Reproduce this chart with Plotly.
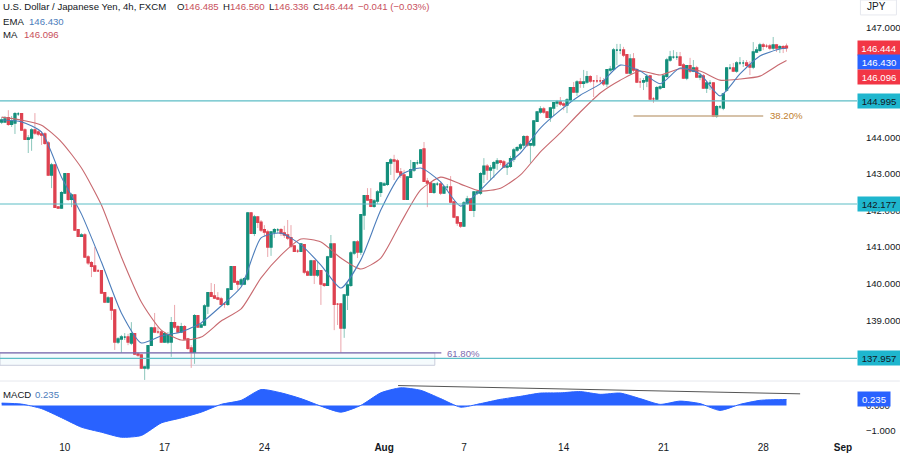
import pandas as pd
import plotly.graph_objects as go
from plotly.subplots import make_subplots

# USD/JPY 4h, FXCM, one line = 10 bars
opens = [
    144.42,144.42,144.53,144.36,144.39,144.64,144.64,144.20,143.95,143.98,
    144.20,144.14,144.09,144.09,143.84,142.97,143.24,142.09,142.07,142.48,
    143.00,142.31,142.42,141.47,141.30,141.33,140.73,140.57,140.48,140.35,
    140.35,139.75,139.50,139.61,139.28,138.41,138.49,138.54,138.54,138.38,
    138.63,138.08,138.05,137.70,137.70,138.32,138.79,138.68,138.68,138.41,
    138.41,138.41,138.93,138.82,138.68,138.82,138.49,138.24,138.13,139.12,
    138.82,138.87,139.39,139.75,139.66,139.61,139.58,139.44,139.44,139.85,
    140.46,140.05,139.99,139.99,140.13,141.93,141.38,141.82,141.68,141.47,
    141.41,141.00,141.41,141.47,141.47,141.38,141.33,141.25,141.03,140.89,
    140.89,141.06,140.32,140.24,140.62,140.24,140.35,139.99,139.96,140.73,
    141.08,139.44,139.44,138.79,139.69,139.96,140.84,141.14,140.87,141.88,
    142.40,142.29,142.12,142.26,142.50,142.70,142.72,143.30,143.38,143.35,
    143.05,142.97,142.31,142.91,143.11,143.30,143.30,143.68,142.80,142.75,
    142.50,142.72,142.72,142.48,142.64,142.64,142.23,141.82,141.66,141.58,
    142.20,142.31,142.01,142.48,142.48,143.00,143.21,143.11,143.16,143.30,
    143.35,143.32,143.19,143.21,143.41,143.65,143.71,143.79,144.01,143.79,
    143.79,144.44,144.69,144.77,144.69,144.55,144.80,144.94,144.96,144.91,
    144.88,145.02,145.35,145.24,145.51,145.48,145.51,145.65,145.54,145.54,
    145.54,145.54,145.46,145.84,145.86,146.38,146.38,146.38,146.25,145.76,
    146.14,145.84,145.51,145.51,145.54,145.67,145.05,145.05,145.35,145.37,
    145.67,146.11,146.19,146.19,146.19,145.97,145.62,145.95,145.81,145.89,
    145.65,145.67,145.35,145.48,145.48,144.58,144.83,144.80,145.29,145.89,
    145.89,145.81,146.03,146.03,146.03,145.97,145.92,146.33,146.38,146.52,
    146.49,146.49,146.44,146.52,146.44,146.47,146.485,
]
closes = [
    144.47,144.50,144.36,144.44,144.64,144.64,144.20,143.95,143.98,144.20,
    144.12,144.09,144.06,143.84,142.97,143.24,142.09,142.07,142.48,143.00,
    142.31,142.42,141.47,141.30,141.33,140.73,140.57,140.48,140.35,140.35,
    139.75,139.50,139.61,139.28,138.41,138.49,138.54,138.54,138.41,138.63,
    138.08,138.05,137.70,137.72,138.30,138.79,138.68,138.68,138.41,138.63,
    138.60,138.93,138.82,138.68,138.82,138.49,138.24,138.13,139.12,138.82,
    138.87,139.39,139.75,139.66,139.61,139.58,139.44,139.44,139.85,140.46,
    140.05,139.99,140.10,140.13,141.93,141.38,141.82,141.68,141.47,141.41,
    141.00,141.41,141.47,141.47,141.38,141.33,141.25,141.03,140.89,140.89,
    141.08,140.32,140.24,140.62,140.24,140.35,139.99,139.96,140.73,141.08,
    139.44,139.44,138.79,139.69,139.96,140.84,141.14,140.87,141.88,142.40,
    142.29,142.12,142.26,142.50,142.75,142.72,143.30,143.38,143.35,143.05,
    142.97,142.31,142.91,143.11,143.30,143.30,143.65,142.80,142.75,142.50,
    142.72,142.72,142.48,142.64,142.64,142.23,141.82,141.66,141.58,142.20,
    142.31,142.01,142.50,142.50,143.00,143.21,143.11,143.16,143.30,143.35,
    143.32,143.19,143.21,143.41,143.65,143.71,143.79,144.01,143.79,143.82,
    144.44,144.69,144.77,144.69,144.55,144.80,144.94,144.96,144.91,144.88,
    145.02,145.35,145.24,145.51,145.48,145.51,145.65,145.54,145.54,145.54,
    145.54,145.46,145.84,145.86,146.38,146.38,146.38,146.25,145.76,146.14,
    145.84,145.51,145.51,145.54,145.65,145.05,145.05,145.35,145.37,145.67,
    146.11,146.19,146.19,146.19,145.97,145.62,145.95,145.81,145.89,145.65,
    145.67,145.35,145.48,145.48,144.58,144.83,144.83,145.18,145.89,145.89,
    145.81,146.03,146.03,146.03,145.97,145.92,146.33,146.38,146.52,146.49,
    146.49,146.44,146.52,146.44,146.47,146.44,146.444,
]
highs = [
    144.55,144.58,144.74,144.58,144.69,144.69,144.66,144.25,144.06,144.25,
    144.66,144.20,144.17,144.14,143.90,143.30,143.27,142.12,142.53,143.02,
    143.02,142.48,142.45,141.49,141.38,141.38,140.78,140.62,141.00,140.40,
    140.37,139.77,139.66,139.64,139.31,138.54,138.60,138.65,138.63,138.95,
    138.65,138.13,138.08,137.75,138.32,138.82,139.20,138.82,138.73,138.68,
    138.68,139.09,139.42,138.87,138.93,138.87,138.52,138.32,139.17,139.14,
    138.93,139.44,139.77,140.02,139.99,139.77,139.64,139.50,139.88,140.48,
    140.48,140.10,140.16,140.18,141.96,141.96,141.88,141.85,141.74,141.60,
    141.47,141.44,141.52,141.52,141.52,141.58,141.74,141.60,141.06,140.95,
    141.11,141.08,140.37,140.65,140.65,140.62,140.37,140.02,140.76,141.33,
    141.11,139.47,139.47,139.72,140.02,140.89,141.17,141.19,141.90,142.42,
    142.61,142.61,142.31,142.56,142.78,142.78,143.32,143.43,143.52,143.41,
    143.16,143.11,142.94,143.38,143.32,143.38,143.68,143.87,142.89,142.78,
    142.75,142.78,142.78,142.67,142.72,142.94,142.26,141.85,141.68,142.26,
    142.40,142.34,142.53,142.56,143.05,143.43,143.27,143.24,143.35,143.43,
    143.38,143.38,143.32,143.49,143.71,143.76,143.84,144.06,144.06,143.84,
    144.47,144.72,144.85,144.83,144.72,144.83,144.96,145.02,145.10,144.96,
    145.07,145.37,145.51,145.56,145.62,145.84,145.81,145.70,145.56,145.70,
    145.65,145.62,145.86,145.95,146.44,146.55,146.55,146.47,146.27,146.27,
    146.30,145.89,145.62,145.62,145.73,145.70,145.10,145.40,145.43,145.70,
    146.17,146.36,146.38,146.33,146.33,146.03,145.97,146.17,146.11,145.95,
    145.76,145.73,145.54,145.56,145.51,144.88,144.88,145.21,145.92,146.00,
    146.03,146.08,146.19,146.11,146.11,146.08,146.60,146.47,146.58,146.58,
    146.55,146.55,146.74,146.55,146.52,146.52,146.560,
]
lows = [
    144.36,144.42,144.31,144.28,144.09,144.58,144.17,143.93,143.57,143.63,
    144.06,144.03,143.79,143.79,142.94,142.61,142.07,142.04,142.04,142.45,
    142.26,142.09,141.44,141.28,141.28,140.70,140.51,140.18,140.32,140.32,
    139.72,139.47,139.47,139.01,138.19,138.35,138.11,138.46,138.32,138.32,
    138.05,138.00,137.67,137.37,137.64,138.30,138.65,138.63,138.38,138.38,
    138.35,138.00,138.76,138.65,138.65,138.46,138.19,137.70,137.81,138.79,
    138.79,138.84,139.17,139.64,139.58,139.55,139.42,139.34,139.39,139.83,
    140.02,139.83,139.94,139.96,140.07,141.36,141.30,141.52,141.41,141.30,
    140.73,140.76,141.25,141.38,141.30,141.25,141.19,140.97,140.87,140.84,
    140.87,140.26,140.21,140.21,139.99,140.18,139.42,139.91,139.94,140.70,
    138.73,138.87,138.11,138.52,139.28,139.91,140.78,140.70,140.78,141.47,
    142.26,142.09,142.07,142.18,142.37,142.67,142.67,142.97,142.83,143.02,
    142.89,142.29,142.29,142.89,143.05,143.24,143.27,142.78,142.09,142.48,
    142.45,142.67,142.42,142.45,142.56,142.20,141.79,141.58,141.52,141.55,
    142.15,141.99,141.82,142.42,142.42,142.75,142.83,142.83,142.89,143.11,
    143.24,143.16,142.97,143.16,143.32,143.60,143.65,143.71,143.73,143.30,
    143.73,144.42,144.64,144.64,144.53,144.42,144.58,144.83,144.85,144.74,
    144.66,144.96,145.21,145.13,145.35,145.35,145.46,145.48,145.10,145.48,
    145.48,145.40,145.37,145.78,145.81,145.97,146.27,146.19,145.73,145.73,
    145.78,145.48,145.35,145.29,145.37,145.02,144.94,145.02,145.29,145.35,
    145.62,146.06,146.14,146.11,145.95,145.59,145.56,145.76,145.78,145.62,
    145.56,145.32,145.21,145.29,144.55,144.53,144.77,144.74,145.24,145.84,
    145.78,145.76,145.97,145.92,145.89,145.70,145.86,146.30,146.33,146.38,
    146.44,146.38,146.38,146.33,146.30,146.30,146.336,
]

# indicators, read once per trading day (every 6th bar) plus the last bar
ema = [144.47,144.42,144.14,142.91,141.90,140.59,139.20,138.38,138.57,138.68,
       138.93,139.39,139.91,141.25,141.38,141.06,140.51,139.88,140.65,142.01,
       142.97,143.16,142.78,142.12,142.56,143.11,143.57,144.25,144.74,145.15,
       145.46,145.97,145.81,145.46,145.89,145.73,145.13,145.73,146.22,146.41,146.43]
ma = [144.55,144.47,144.33,143.87,143.16,142.15,140.73,139.50,138.73,138.46,
      138.54,138.98,139.31,140.16,140.78,141.22,141.14,140.70,140.40,140.70,
      141.66,142.56,142.91,142.72,142.53,142.61,142.97,143.60,144.12,144.69,
      145.21,145.56,145.81,145.70,145.87,145.81,145.56,145.59,145.67,146.00,146.096]
macd = [0.09,0.05,-0.13,-0.49,-0.87,-1.07,-1.27,-1.20,-0.70,-0.50,
        -0.27,0.04,0.20,0.63,0.50,0.27,-0.03,-0.27,0.00,0.50,
        0.70,0.60,0.27,-0.07,0.07,0.24,0.36,0.49,0.50,0.55,
        0.44,0.49,0.27,0.04,0.17,0.07,-0.20,0.04,0.20,0.23,0.235]

levels = [144.995, 142.177, 137.957]
fib_382 = 144.58
fib_618 = 138.11
fib_618_low = 137.77

# 138, 145 and 146 would sit fully behind the price tags
price_ticks = [139, 140, 141, 142, 143, 144, 147]
tick_dates = ["2023-07-10","2023-07-17","2023-07-24","2023-08-01","2023-08-07",
              "2023-08-14","2023-08-21","2023-08-28","2023-09-01"]
tick_text = ["10","17","24","<b>Aug</b>","7","14","21","28","<b>Sep</b>"]

# 4h bars, mon-fri only
all_dates = pd.date_range("2023-07-04 20:00", periods=500, freq="4h")
dates = [d for d in all_dates if d.dayofweek < 5][:len(closes)]
line_dates = dates[::6] + [dates[-1]]

FONT = "Liberation Sans"
TEXT = "#131722"
RED = "#F23645"
BLUE = "#2962FF"
GREEN = "#148F7C"
TEAL = "#5DBDC6"

fig = make_subplots(rows=2, cols=1, shared_xaxes=True, vertical_spacing=0.01)

# pale wicks first, then solid bodies on top
fig.add_trace(go.Candlestick(x=dates, open=opens, high=highs, low=lows, close=closes,
                             increasing=dict(line=dict(color="#8CC7BC", width=1), fillcolor="#8CC7BC"),
                             decreasing=dict(line=dict(color="#EBA6AC", width=1), fillcolor="#EBA6AC"),
                             hoverinfo="skip"), row=1, col=1)
fig.add_trace(go.Candlestick(x=dates, open=opens, close=closes,
                             high=[max(a, b) for a, b in zip(opens, closes)],
                             low=[min(a, b) for a, b in zip(opens, closes)],
                             increasing=dict(line=dict(color=GREEN, width=1.6), fillcolor=GREEN),
                             decreasing=dict(line=dict(color="#DE4250", width=1.6), fillcolor="#DE4250"),
                             hoverinfo="skip"), row=1, col=1)
fig.add_trace(go.Scatter(x=line_dates, y=ma, mode="lines",
                         line=dict(color="#C8696F", width=1.1, shape="spline", smoothing=0.6)), row=1, col=1)
fig.add_trace(go.Scatter(x=line_dates, y=ema, mode="lines",
                         line=dict(color="#4C7DBB", width=1.1, shape="spline", smoothing=0.6)), row=1, col=1)
fig.add_trace(go.Scatter(x=line_dates, y=macd, mode="lines", fill="tozeroy", fillcolor=BLUE,
                         line=dict(color=BLUE, width=1, shape="spline", smoothing=0.6)), row=2, col=1)

# levels and fib lines
x_start = "2023-07-04 18:00"
fib_start = "2023-08-17 12:00"
fib_end = "2023-08-28 00:00"
box_end = "2023-08-03 13:00"
shapes = []
for lv in levels:
    shapes.append(dict(type="line", xref="paper", x0=0, x1=1, yref="y", y0=lv, y1=lv,
                       line=dict(color=TEAL, width=1.2)))
shapes.append(dict(type="rect", xref="x", x0=x_start, x1=box_end, yref="y", y0=fib_618_low, y1=fib_618,
                   fillcolor="rgba(215,240,248,0.25)", line=dict(color="#C9CEDC", width=1), layer="below"))
shapes.append(dict(type="line", xref="paper", x0=0, x1=0.515, yref="y", y0=fib_618, y1=fib_618,
                   line=dict(color="#7D6BB0", width=1.2)))
shapes.append(dict(type="line", xref="x", x0=fib_start, x1=fib_end, yref="y", y0=fib_382, y1=fib_382,
                   line=dict(color="#C8AE8C", width=1.5)))
# MACD trend line
shapes.append(dict(type="line", xref="x", x0="2023-08-01 16:48", x1="2023-08-29 20:24", yref="y2", y0=0.79, y1=0.46,
                   line=dict(color="#555555", width=1)))
# pane separator and currency box
shapes.append(dict(type="line", xref="paper", x0=0, x1=1.05, yref="paper", y0=0.134, y1=0.134,
                   line=dict(color="#E6E8EE", width=1)))
shapes.append(dict(type="rect", xref="paper", x0=1.004, x1=1.046, yref="paper", y0=0.966, y1=1.0,
                   fillcolor="white", line=dict(color="#E6E8EE", width=1)))

anns = []
def label(text, x, y, color=TEXT, size=9.6):
    # header text, placed in paper fractions
    anns.append(dict(text=text, xref="paper", yref="paper", x=x / 857, y=1 - y / 440, xanchor="left", yanchor="middle",
                     showarrow=False, borderpad=0, xshift=-1, font=dict(family=FONT, size=size, color=color)))

def price_tag(text, y, yref, bg, color="white", shift=0, w=42):
    anns.append(dict(text=text, xref="paper", x=1, xanchor="left", xshift=0, yref=yref, y=y, yshift=shift, yanchor="middle",
                     showarrow=False, width=w, height=14, borderpad=0, align="center", bgcolor=bg,
                     font=dict(family=FONT, size=9.6, color=color)))

label("U.S. Dollar / Japanese Yen, 4h, FXCM", 3, 7)
label("O", 177, 7)
label("146.485", 184, 7, "#C8505C")
label("H", 223, 7)
label("146.560", 230, 7, "#C8505C")
label("L", 269, 7)
label("146.336", 274, 7, "#C8505C")
label("C", 313, 7)
label("146.444", 319, 7, "#C8505C")
label("−0.041 (−0.03%)", 358, 7, "#C8505C")
label("EMA", 3, 21)
label("146.430", 29, 21, "#4C7DBB")
label("MA", 3, 34.5)
label("146.096", 24, 34.5, "#C8505C")
label("MACD", 3, 394)
label("0.235", 35, 394, "#4C7DBB")
label("38.20%", 770, 115, "#C17E2C")
label("61.80%", 447, 353, "#7D6BB0")
label("JPY", 867, 7, TEXT, 10)

price_tag("146.444", 146.444, "y", RED)
price_tag("146.430", 146.430, "y", BLUE, shift=-14)
price_tag("146.096", 146.096, "y", RED, shift=-16)
price_tag("144.995", 144.995, "y", "#1FB6CE", TEXT)
price_tag("142.177", 142.177, "y", "#1FB6CE", TEXT)
price_tag("137.957", 137.957, "y", "#1FB6CE", TEXT)
price_tag("0.235", 0.235, "y2", BLUE, w=32)

fig.update_layout(width=900, height=461, margin=dict(l=0, r=43, t=0, b=21),
                  paper_bgcolor="white", plot_bgcolor="white", showlegend=False,
                  font=dict(family=FONT, size=10, color=TEXT),
                  shapes=shapes, annotations=anns)
fig.update_xaxes(type="date", range=[x_start, "2023-09-01 16:48"],
                 rangebreaks=[dict(bounds=["sat", "mon"])],
                 showgrid=False, zeroline=False, showline=False, ticks="",
                 rangeslider_visible=False, automargin=False)
fig.update_xaxes(tickvals=tick_dates, ticktext=tick_text, tickfont=dict(size=10), row=2, col=1)
fig.update_yaxes(side="right", showgrid=False, zeroline=False, showline=False, ticks="outside", ticklen=6,
                 tickcolor="white", tickfont=dict(size=9.6), automargin=False)
fig.update_yaxes(domain=[0.134, 1], range=[137.34, 147.75], tickvals=price_ticks,
                 tickformat=".3f", row=1, col=1)
fig.update_yaxes(domain=[0, 0.13], range=[-1.38, 0.9], tickvals=[-1, 0], ticktext=["−1.000", "0.000"], row=2, col=1)

fig.write_html("out.html", config=dict(displayModeBar=False), post_script="document.body.style.margin='0';")
